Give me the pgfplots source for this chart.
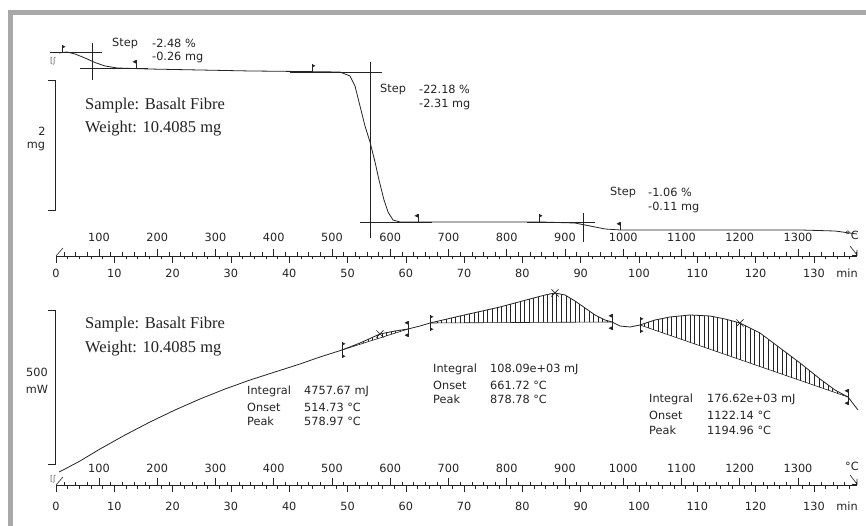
\documentclass[border=0pt]{standalone}
\usepackage{fontspec}
\setmainfont{DejaVu Sans}
\newfontfamily\seriffont{Liberation Serif}
\usepackage{pgfplots}
\pgfplotsset{compat=1.18}
\usetikzlibrary{patterns.meta}
\definecolor{ink}{RGB}{35,35,35}
\definecolor{framegray}{RGB}{168,168,168}

% flag on a stick, pointing right / left (axis cs)
\newcommand{\flagR}[2]{\draw[ink,line width=0.6pt] (axis cs:#1,#2) -- ([yshift=8pt]axis cs:#1,#2);
  \fill[ink] ([yshift=8pt]axis cs:#1,#2) -- ([xshift=3.5pt,yshift=6.2pt]axis cs:#1,#2) -- ([yshift=4.4pt]axis cs:#1,#2) -- cycle;}
\newcommand{\flagL}[2]{\draw[ink,line width=0.6pt] (axis cs:#1,#2) -- ([yshift=8pt]axis cs:#1,#2);
  \fill[ink] ([yshift=8pt]axis cs:#1,#2) -- ([xshift=-3.5pt,yshift=6.2pt]axis cs:#1,#2) -- ([yshift=4.4pt]axis cs:#1,#2) -- cycle;}
% integration limit marker
\newcommand{\limR}[2]{\draw[ink,line width=0.6pt] ([yshift=-8pt]axis cs:#1,#2) -- ([yshift=8pt]axis cs:#1,#2);
  \fill[ink] ([yshift=8pt]axis cs:#1,#2) -- ([xshift=3.5pt,yshift=6.2pt]axis cs:#1,#2) -- ([yshift=4.4pt]axis cs:#1,#2) -- cycle;
  \fill[ink] ([yshift=-8pt]axis cs:#1,#2) -- ([xshift=3.5pt,yshift=-6.2pt]axis cs:#1,#2) -- ([yshift=-4.4pt]axis cs:#1,#2) -- cycle;}
\newcommand{\limL}[2]{\draw[ink,line width=0.6pt] ([yshift=-8pt]axis cs:#1,#2) -- ([yshift=8pt]axis cs:#1,#2);
  \fill[ink] ([yshift=8pt]axis cs:#1,#2) -- ([xshift=-3.5pt,yshift=6.2pt]axis cs:#1,#2) -- ([yshift=4.4pt]axis cs:#1,#2) -- cycle;
  \fill[ink] ([yshift=-8pt]axis cs:#1,#2) -- ([xshift=-3.5pt,yshift=-6.2pt]axis cs:#1,#2) -- ([yshift=-4.4pt]axis cs:#1,#2) -- cycle;}

% time / temperature ruler: #1 line y, #2 temperature label y, #3 time label y
\newcommand{\ruler}[3]{%
  \draw[ink,line width=0.7pt] (56pt,-#1pt) -- (857pt,-#1pt);
  \foreach \t in {0,2,...,136} \draw[ink,line width=0.6pt] ({56pt+5.83pt*\t},-#1pt) -- ++(0,-3.5pt);
  \foreach \t in {0,10,...,130} {\draw[ink,line width=0.6pt] ({56pt+5.83pt*\t},-#1pt) -- ++(0,-7pt);
    \node at ({56pt+5.83pt*\t},-#3pt) {\t};}
  \foreach \T in {40,60,...,1400} \draw[ink,line width=0.6pt] ({40.75pt+0.5825pt*\T},-#1pt) -- ++(0,3.5pt);
  \foreach \T in {100,200,...,1300} {\draw[ink,line width=0.6pt] ({40.75pt+0.5825pt*\T},-#1pt) -- ++(0,7pt);
    \node at ({40.75pt+0.5825pt*\T},-#2pt) {\T};}
  \draw[ink,line width=0.6pt] (56pt,-#1pt) -- ++(7pt,8pt);
  \draw[ink,line width=0.6pt] (850pt,{-#1pt+10pt}) -- (857pt,{-#1pt+1pt}) -- (857pt,{-#1pt+6pt});
  \draw[ink,line width=0.6pt] (852pt,{-#1pt+1pt}) -- (857pt,{-#1pt+1pt});
  \node at (852pt,{-#2pt+2pt}) {°C};
  \node at (847pt,-#3pt) {min};
}

\begin{document}
\begin{tikzpicture}[font=\fontsize{11.3}{13}\selectfont, every node/.style={text=ink}]
\useasboundingbox (0,0) rectangle (866pt,-526pt);
\fill[framegray] (8pt,-10pt) rectangle (866pt,-15pt);
\fill[framegray] (8pt,-10pt) rectangle (13pt,-526pt);

% ---------------- TGA (mass, mg) ----------------
\begin{axis}[at={(0pt,0pt)}, anchor=north west, scale only axis,
  width=866pt, height=256pt,
  xmin=-9.6055, xmax=138.936, ymin=7.2715, ymax=11.21,
  axis lines=none, clip=false]
\addplot[ink, line width=0.8pt] coordinates {
  (0.51,10.395)(1.89,10.41)(3.26,10.379)(4.97,10.318)(6.69,10.248)(8.40,10.195)
  (10.46,10.164)(16.12,10.148)(24.70,10.133)(33.28,10.118)(41.85,10.110)
  (48.71,10.102)(50.43,10.041)(51.29,9.887)(52.14,9.579)(53.00,9.272)(53.86,9.025)
  (54.72,8.718)(55.40,8.441)(56.26,8.133)(56.95,7.948)(57.80,7.825)(59.01,7.795)
  (67.58,7.795)(83.02,7.795)(89.02,7.779)(91.60,7.733)(94.17,7.687)(96.74,7.672)
  (110.46,7.672)(127.62,7.672)(133.62,7.656)(137.39,7.610)};
% step construction lines
\draw[ink,line width=0.6pt] (axis cs:-1.03,10.41) -- (axis cs:7.89,10.41);
\draw[ink,line width=0.6pt] (axis cs:6.17,10.548) -- (axis cs:6.17,9.979);
\draw[ink,line width=0.6pt] (axis cs:4.12,10.164) -- (axis cs:15.78,10.164);
\draw[ink,line width=0.6pt] (axis cs:40.14,10.102) -- (axis cs:55.92,10.102);
\draw[ink,line width=0.6pt] (axis cs:53.86,10.256) -- (axis cs:53.86,7.548);
\draw[ink,line width=0.6pt] (axis cs:52.14,7.795) -- (axis cs:64.49,7.795);
\draw[ink,line width=0.6pt] (axis cs:80.79,7.795) -- (axis cs:92.45,7.795);
\draw[ink,line width=0.6pt] (axis cs:90.39,7.933) -- (axis cs:90.39,7.487);
\flagR{1.03}{10.395}
\flagL{13.72}{10.164}
\flagR{43.91}{10.102}
\flagL{62.09}{7.795}
\flagR{82.85}{7.795}
\flagL{96.74}{7.672}
\end{axis}

% ---------------- DSC (heat flow, mW) ----------------
\begin{axis}[at={(0pt,-280pt)}, anchor=north west, scale only axis,
  width=866pt, height=205pt,
  xmin=-9.6055, xmax=138.936, ymin=0, ymax=665.58,
  axis lines=none, clip=false]
% hatched peak areas (curve between limits, closed by the straight baseline)
\addplot[draw=none, pattern={Lines[angle=90,distance=4.6pt,line width=0.5pt]}, pattern color=ink]
  coordinates {(49.06,438.3)(52.14,461.0)(55.57,490.3)(58.15,500.0)(60.38,506.5)} -- cycle;
\addplot[draw=none, pattern={Lines[angle=90,distance=4.6pt,line width=0.5pt]}, pattern color=ink]
  coordinates {(64.15,526.0)(69.30,548.7)(76.16,577.9)(81.30,603.9)(83.88,616.9)
  (85.59,623.4)(87.31,616.9)(89.02,597.4)(90.74,574.7)(92.45,552.0)(94.17,535.7)(95.37,529.2)} -- cycle;
\addplot[draw=none, pattern={Lines[angle=90,distance=4.6pt,line width=0.5pt]}, pattern color=ink]
  coordinates {(100.17,519.5)(102.74,535.7)(105.32,545.5)(108.75,552.0)(112.18,548.7)
  (114.75,539.0)(117.32,526.0)(120.75,493.5)(124.19,444.8)(127.62,396.1)(131.05,344.2)
  (133.62,308.4)(135.85,285.7)} -- cycle;
\addplot[ink, line width=0.8pt] coordinates {
  (0.51,42.2)(1.54,51.9)(4.12,77.9)(7.55,116.9)(11.84,162.3)(16.12,204.5)
  (20.41,243.5)(24.70,279.2)(28.99,311.7)(33.28,340.9)(37.56,366.9)(41.85,392.9)
  (45.28,415.6)(49.06,438.3)(52.14,461.0)(55.57,490.3)(58.15,500.0)(60.38,506.5)
  (62.44,516.2)(64.15,526.0)(69.30,548.7)(76.16,577.9)(81.30,603.9)(83.88,616.9)
  (85.59,623.4)(87.31,616.9)(89.02,597.4)(90.74,574.7)(92.45,552.0)(94.17,535.7)
  (95.37,529.2)(96.74,516.2)(98.46,513.0)(100.17,519.5)(102.74,535.7)(105.32,545.5)
  (108.75,552.0)(112.18,548.7)(114.75,539.0)(117.32,526.0)(120.75,493.5)
  (124.19,444.8)(127.62,396.1)(131.05,344.2)(133.62,308.4)(135.85,285.7)(137.56,243.5)};
\addplot[ink, line width=0.6pt] coordinates {(49.06,438.3)(60.38,506.5)};
\addplot[ink, line width=0.6pt] coordinates {(64.15,526.0)(95.37,529.2)};
\addplot[ink, line width=0.6pt] coordinates {(100.17,519.5)(135.85,285.7)};
\addplot[only marks, mark=x, mark size=5pt, ink, mark options={line width=0.7pt}]
  coordinates {(55.57,490.3)(85.59,623.4)(117.32,526.0)};
\limR{49.06}{438.3}
\limL{60.38}{506.5}
\limR{64.15}{526.0}
\limL{95.37}{529.2}
\limR{100.17}{519.5}
\limL{135.85}{285.7}
\end{axis}

% rulers
\ruler{256}{237}{273}
\ruler{485}{468}{506}

% start hooks
\node[text=ink!70] at (53pt,-61pt) {\fontsize{8}{8}\selectfont [ʃ};
\node[text=ink!70] at (53pt,-479pt) {\fontsize{8}{8}\selectfont [ʃ};

% scale brackets
\draw[ink,line width=0.7pt] (48pt,-80pt) -- (55pt,-80pt) -- (55pt,-210pt) -- (48pt,-210pt);
\node at (42pt,-131pt) {2};
\node at (36pt,-147pt) {mg};
\draw[ink,line width=0.7pt] (48pt,-310pt) -- (55pt,-310pt) -- (55pt,-464pt) -- (48pt,-464pt);
\node at (37pt,-372pt) {500};
\node at (37pt,-389pt) {mW};

% sample info
\begin{scope}[every node/.style={anchor=west, inner sep=0pt, text=ink, font=\seriffont\fontsize{16.5}{19}\selectfont}]
\node at (85pt,-106pt) {Sample: Basalt Fibre};
\node at (85pt,-129pt) {Weight: 10.4085 mg};
\node at (85pt,-325pt) {Sample: Basalt Fibre};
\node at (85pt,-349pt) {Weight: 10.4085 mg};
\end{scope}

% step annotations
\begin{scope}[every node/.style={anchor=west, inner sep=0pt, text=ink}]
\node at (112pt,-43pt) {Step};
\node at (152pt,-43pt) {-2.48 \%};
\node at (152pt,-57pt) {-0.26 mg};
\node at (380pt,-89pt) {Step};
\node at (419pt,-89pt) {-22.18 \%};
\node at (419pt,-104pt) {-2.31 mg};
\node at (610pt,-192pt) {Step};
\node at (648pt,-192pt) {-1.06 \%};
\node at (648pt,-207pt) {-0.11 mg};
% peak annotations
\node at (247pt,-391pt) {Integral};
\node at (247pt,-407pt) {Onset};
\node at (247pt,-421pt) {Peak};
\node at (304pt,-391pt) {4757.67 mJ};
\node at (304pt,-407pt) {514.73 °C};
\node at (304pt,-421pt) {578.97 °C};
\node at (433pt,-369pt) {Integral};
\node at (433pt,-385pt) {Onset};
\node at (433pt,-399pt) {Peak};
\node at (490pt,-369pt) {108.09e+03 mJ};
\node at (490pt,-385pt) {661.72 °C};
\node at (490pt,-399pt) {878.78 °C};
\node at (649pt,-399pt) {Integral};
\node at (649pt,-415pt) {Onset};
\node at (649pt,-430pt) {Peak};
\node at (707pt,-399pt) {176.62e+03 mJ};
\node at (707pt,-415pt) {1122.14 °C};
\node at (707pt,-430pt) {1194.96 °C};
\end{scope}
\end{tikzpicture}
\end{document}
